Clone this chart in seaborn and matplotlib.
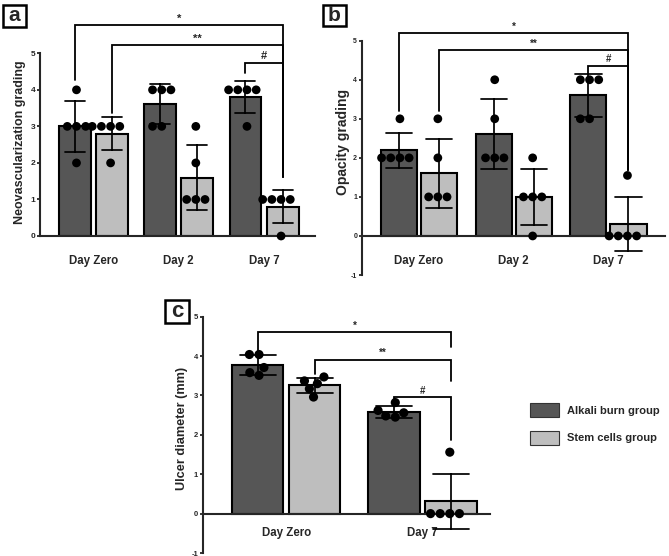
import warnings
warnings.filterwarnings("ignore")
import matplotlib
matplotlib.use("Agg")
import matplotlib.pyplot as plt
from matplotlib.patches import Rectangle, Patch
import pandas as pd
import seaborn as sns

# ---------------- data ----------------
groups = ["Alkali burn group", "Stem cells group"]
days_ab = ["Day Zero", "Day 2", "Day 7"]
days_c = ["Day Zero", "Day 7"]

# Panel a: Neovascularization grading (one list per day, five animals)
neo_alkali = [[4, 3, 3, 3, 2], [4, 4, 4, 3, 3], [4, 4, 4, 4, 3]]
neo_stem = [[3, 3, 3, 3, 2], [3, 2, 1, 1, 1], [1, 1, 1, 1, 0]]
# Panel b: Opacity grading
opa_alkali = [[3, 2, 2, 2, 2], [4, 3, 2, 2, 2], [4, 4, 4, 3, 3]]
opa_stem = [[3, 2, 1, 1, 1], [2, 1, 1, 1, 0], [1.55, 0, 0, 0, 0]]
# Panel c: Ulcer diameter (mm)
ulc_alkali = [[4.04, 4.04, 3.71, 3.51, 3.58], [2.82, 2.45, 2.62, 2.48, 2.56]]
ulc_stem = [[3.37, 2.96, 3.30, 3.47, 3.17], [1.56, 0, 0, 0, 0]]

ylabels = ["Neovascularization grading", "Opacity grading", "Ulcer diameter (mm)"]
panel_letters = ["a", "b", "c"]
sig_labels = ["*", "**", "#"]

palette = {"Alkali burn group": "#565656", "Stem cells group": "#bebebe"}
dot_palette = {"Alkali burn group": "black", "Stem cells group": "black"}

sns.set_style("ticks")
plt.rcParams["font.family"] = ["Liberation Sans", "DejaVu Sans"]
plt.rcParams["axes.unicode_minus"] = False

W, H = 669, 556
fig = plt.figure(figsize=(W / 100, H / 100), dpi=100)


def px_axes(left, right, top, bottom):
    return [left / W, 1 - bottom / H, (right - left) / W, (bottom - top) / H]


def long_df(days, alk, stem):
    rows = []
    for g, series in zip(groups, [alk, stem]):
        for d, vals in zip(days, series):
            for v in vals:
                rows.append((d, g, v))
    return pd.DataFrame(rows, columns=["day", "group", "value"])


def draw_panel(ax, df, days, cfg):
    sns.barplot(data=df, x="day", y="value", hue="group", order=days,
                hue_order=groups, palette=palette, errorbar="sd",
                capsize=cfg["capsize"], width=cfg["width"], gap=cfg["gap"],
                edgecolor="black", linewidth=1.5,
                err_kws={"color": "black", "linewidth": 1.25},
                legend=False, ax=ax)
    sns.swarmplot(data=df, x="day", y="value", hue="group", order=days,
                  hue_order=groups, dodge=True, palette=dot_palette,
                  size=cfg["dot"], legend=False, ax=ax, zorder=4,
                  clip_on=False)
    ax.set_xlim(*cfg["xlim"])
    ax.set_ylim(*cfg["ylim"])
    ax.set_xlabel("")
    ax.set_ylabel(cfg["ylabel"], fontsize=cfg["label_fs"], fontweight="bold")
    ax.yaxis.set_label_coords(*cfg["label_xy"])
    ax.yaxis.label.set_verticalalignment("center")
    ax.set_yticks(range(int(cfg["ylim"][0]), 6))
    sns.despine(ax=ax)
    ax.spines["left"].set_bounds(cfg["ylim"][0], 5)
    ax.spines["bottom"].set_position(("data", 0))
    for s in ("left", "bottom"):
        ax.spines[s].set_linewidth(1.5)
    ax.tick_params(axis="y", length=2.5, width=1.3, pad=1,
                   labelsize=cfg["tick_fs"])
    ax.tick_params(axis="x", length=0, pad=cfg["xpad"], labelsize=8.3)
    for lbl in ax.get_yticklabels() + ax.get_xticklabels():
        lbl.set_fontweight("bold")

    # bar centres from the drawn bars
    centres = {}
    for p in ax.patches:
        cx = p.get_x() + p.get_width() / 2
        di = int(round(cx))
        hi = 0 if cx < di else 1
        centres[(di, hi)] = cx
    for lab, (lk, rk, ly, lb, rb) in zip(sig_labels, cfg["brackets"]):
        x1, x2 = centres[lk], centres[rk]
        ax.plot([x1, x1, x2, x2], [lb, ly, ly, rb], color="black", lw=1.3,
                clip_on=False, solid_joinstyle="miter", zorder=5)
        ax.annotate(lab, xy=((x1 + x2) / 2, ly), xytext=(0, 1),
                    textcoords="offset points", ha="center", va="bottom",
                    fontsize=cfg["sig_fs"], fontweight="bold",
                    annotation_clip=False)


cfgs = [
    dict(pos=px_axes(40, 315, 53.3, 236), xlim=(-0.628, 2.598), ylim=(0, 5),
         width=0.87, gap=0.14, capsize=0.47, dot=6.3, ylabel=ylabels[0],
         label_fs=9, label_xy=(-0.072, 0.512), tick_fs=6, xpad=14, sig_fs=8,
         brackets=[((0, 0), (2, 1), 5.78, 4.27, 1.62),
                   ((0, 1), (2, 1), 5.23, 3.37, 1.62),
                   ((2, 0), (2, 1), 4.74, 4.47, 1.62)]),
    dict(pos=px_axes(362, 665, 40.7, 275), xlim=(-0.60, 2.596), ylim=(-1, 5),
         width=0.844, gap=0.10, capsize=0.55, dot=6.3, ylabel=ylabels[1],
         label_fs=10, label_xy=(-0.064, 0.566), tick_fs=5, xpad=14, sig_fs=7,
         brackets=[((0, 0), (2, 1), 5.2, 3.19, 1.69),
                   ((0, 1), (2, 1), 4.75, 3.19, 1.69),
                   ((2, 0), (2, 1), 4.36, 4.15, 1.69)]),
    dict(pos=px_axes(203, 490, 316.7, 553), xlim=(-0.611, 1.495), ylim=(-1, 5),
         width=0.837, gap=0.10, capsize=0.53, dot=6.6, ylabel=ylabels[2],
         label_fs=9.2, label_xy=(-0.074, 0.529), tick_fs=5.5, xpad=9.5, sig_fs=7,
         brackets=[((0, 0), (1, 1), 4.6, 4.02, 4.23),
                   ((0, 1), (1, 1), 3.91, 3.55, 3.38),
                   ((1, 0), (1, 1), 2.96, 2.73, 1.86)]),
]

dfs = [long_df(days_ab, neo_alkali, neo_stem),
       long_df(days_ab, opa_alkali, opa_stem),
       long_df(days_c, ulc_alkali, ulc_stem)]
day_sets = [days_ab, days_ab, days_c]

for cfg, df, days in zip(cfgs, dfs, day_sets):
    ax = fig.add_axes(cfg["pos"])
    draw_panel(ax, df, days, cfg)

# panel letters in square boxes (pixel boxes: x, y, w, h)
letter_boxes = [(3, 5, 22.5, 21.5), (323, 5, 23, 21), (165, 300, 24, 22.5)]
letter_sizes = [15, 15, 16]
for letter, (bx, by, bw, bh), fs in zip(panel_letters, letter_boxes, letter_sizes):
    rect = Rectangle((bx / W, 1 - (by + bh) / H), bw / W, bh / H,
                     transform=fig.transFigure, facecolor="white",
                     edgecolor="black", linewidth=1.8)
    fig.add_artist(rect)
    fig.text((bx + bw / 2) / W, 1 - (by + bh / 2) / H, letter, ha="center",
             va="center", fontsize=fs, fontweight="bold")

handles = [Patch(facecolor=palette[g], edgecolor="#333333", linewidth=0.8,
                 label=g) for g in groups]
fig.legend(handles=handles, loc="upper left",
           bbox_to_anchor=(530 / W, 1 - 403 / H), frameon=False,
           prop={"weight": "bold", "size": 8}, handlelength=2.6,
           handleheight=1.6, labelspacing=1.2, handletextpad=0.7,
           borderpad=0, borderaxespad=0)

fig.savefig("out.png", dpi=100)
